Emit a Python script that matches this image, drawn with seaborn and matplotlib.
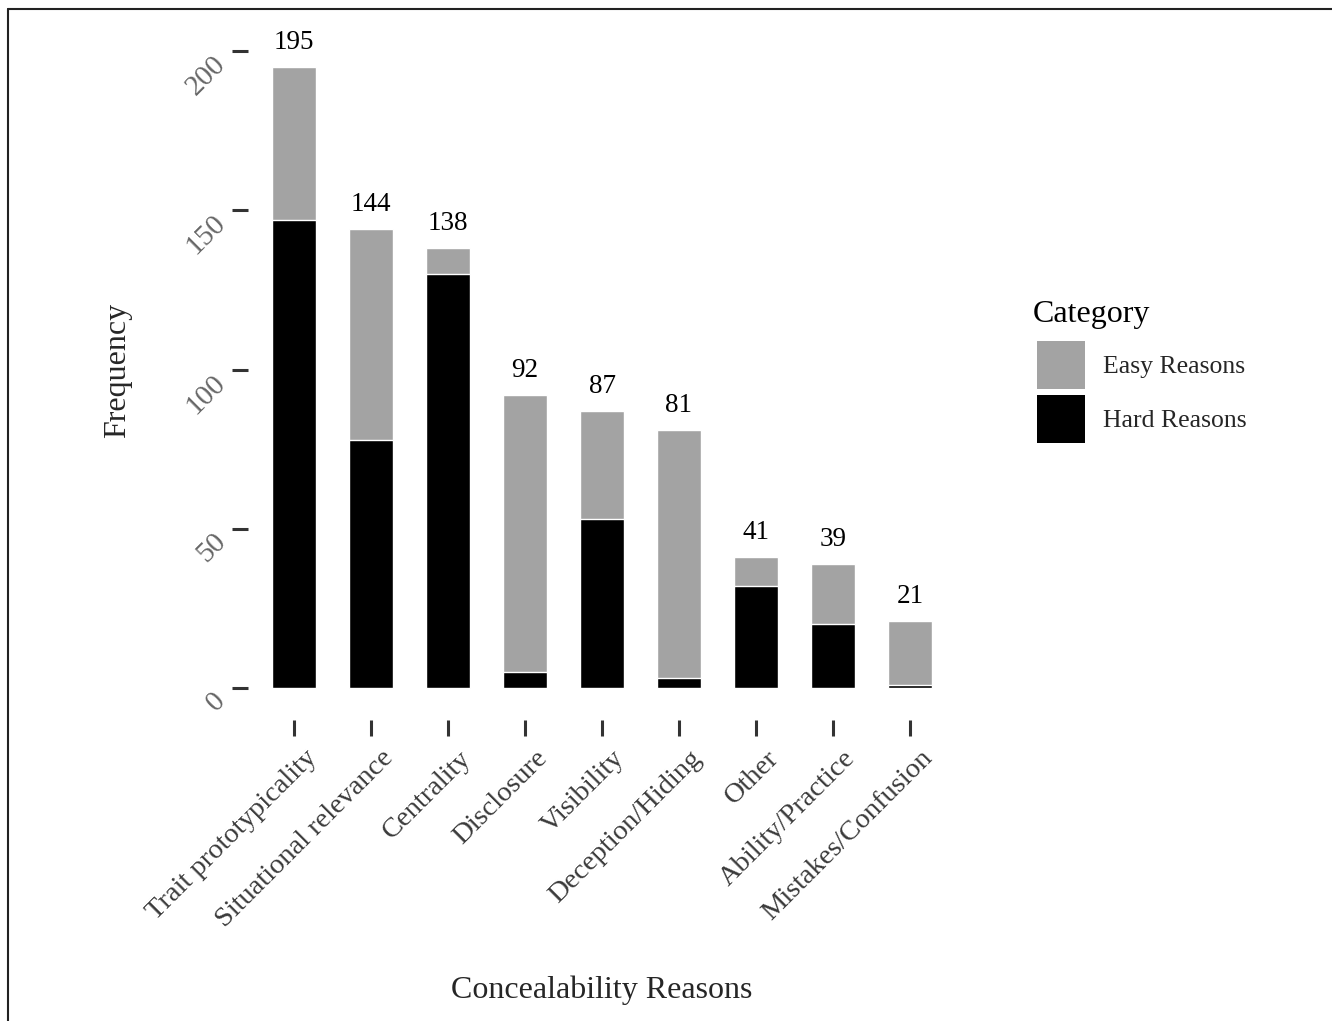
import matplotlib
matplotlib.use("Agg")
import matplotlib.pyplot as plt
from matplotlib.patches import Patch
from matplotlib.lines import Line2D
import matplotlib.transforms as mtransforms
import seaborn as sns
import pandas as pd

categories = ["Trait prototypicality", "Situational relevance", "Centrality", "Disclosure",
              "Visibility", "Deception/Hiding", "Other", "Ability/Practice", "Mistakes/Confusion"]
hard_reasons = [147, 78, 130, 5, 53, 3, 32, 20, 1]
easy_reasons = [48, 66, 8, 87, 34, 78, 9, 19, 20]
totals = [h + e for h, e in zip(hard_reasons, easy_reasons)]
y_ticks = [0, 50, 100, 150, 200]

df = pd.DataFrame({"reason": categories, "hard": hard_reasons, "total": totals})

sns.set_theme(style="white")
plt.rcParams["font.family"] = ["Liberation Serif", "DejaVu Serif"]

GRAY = "#A3A3A3"
fig = plt.figure(figsize=(13.32, 10.21), dpi=100)
ax = fig.add_axes([248/1332, 1-720/1021, (956-248)/1332, (720-16)/1021])

sns.barplot(data=df, x="reason", y="total", order=categories, color=GRAY, width=0.58,
            edgecolor="white", linewidth=1, saturation=1, ax=ax)
sns.barplot(data=df, x="reason", y="hard", order=categories, color="black", width=0.58,
            edgecolor="white", linewidth=1, saturation=1, ax=ax)

for i, t in enumerate(totals):
    ax.annotate(str(t), xy=(i, t), xytext=(0, 13), textcoords="offset points",
                ha="center", va="baseline", fontsize=19.5, color="black")

ax.set_xlim(-0.6, len(categories) - 0.4)
ax.set_ylim(-10.05, 211)
ax.tick_params(axis="both", which="major", length=11.5, width=2.2, color="#333333",
               left=True, bottom=True)
ax.tick_params(axis="y", pad=1)
ax.tick_params(axis="x", pad=7)
ax.set_yticks(y_ticks)
ax.set_yticklabels([str(v) for v in y_ticks], rotation=45, ha="right", va="top",
                   fontsize=21, color="#666666")
ax.set_xticks(range(len(categories)))
ax.set_xticklabels(categories, rotation=45, ha="right", va="top", rotation_mode="anchor",
                   fontsize=20.5, color="#3a3a3a")
shift = mtransforms.ScaledTranslation(10/100, 0, fig.dpi_scale_trans)
for lab in ax.get_xticklabels():
    lab.set_transform(lab.get_transform() + shift)
for s in ax.spines.values():
    s.set_visible(False)

ax.set_xlabel("Concealability Reasons", fontsize=23)
ax.set_ylabel("Frequency", fontsize=23)
ax.xaxis.set_label_coords((602-248)/708, -(990-720)/704)
ax.xaxis.label.set_va("center")
ax.yaxis.set_label_coords((118-248)/708, (720-370)/704)
ax.yaxis.label.set_va("center")

handles = [Patch(facecolor=GRAY, edgecolor="none", label="Easy Reasons"),
           Patch(facecolor="black", edgecolor="none", label="Hard Reasons")]
leg = fig.legend(handles=handles, loc="upper left",
                 bbox_to_anchor=(1037/1332, 1-341/1021), frameon=False,
                 fontsize=18.5, handlelength=1.87, handleheight=2.5,
                 handletextpad=0.7, labelspacing=0.22, borderpad=0, borderaxespad=0)
fig.text(1033/1332, 1-322/1021, "Category", fontsize=23, ha="left", va="baseline",
         color="black")

fig.add_artist(Line2D([8/1332, 1], [1-9/1021, 1-9/1021], transform=fig.transFigure,
                      color="#222222", linewidth=1.5))
fig.add_artist(Line2D([8/1332, 8/1332], [0, 1-9/1021], transform=fig.transFigure,
                      color="#222222", linewidth=1.5))

fig.savefig("out.png", dpi=100, facecolor="white")
